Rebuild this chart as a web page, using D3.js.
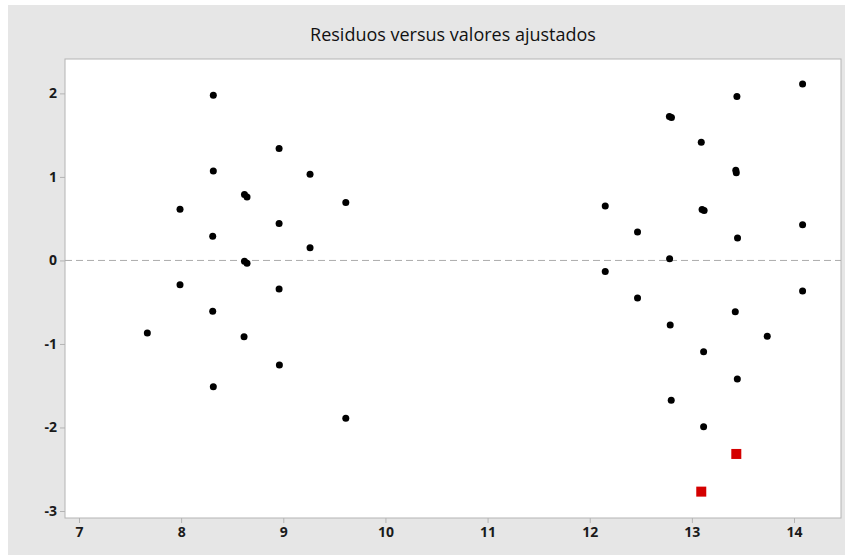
<!DOCTYPE html>
<html>
<head>
<meta charset="utf-8">
<script src="https://cdn.jsdelivr.net/npm/d3@7"></script>
<style>
  html, body { margin: 0; padding: 0; background: #ffffff; }
  svg { display: block; }
</style>
</head>
<body>
<script>
// ---- data ----
const title = "Residuos versus valores ajustados";
const xTicks = [7, 8, 9, 10, 11, 12, 13, 14];
const yTicks = [-3, -2, -1, 0, 1, 2];

// fitted values (x) and residuals (y) of ordinary points
const fitted = [
  8.315, 8.959, 8.315, 9.262, 8.62, 8.645, 9.612, 7.989, 8.959, 8.309,
  9.262, 8.62, 8.645, 7.989, 8.959, 8.309, 7.669, 8.616, 8.962, 8.315,
  9.612,
  14.084, 13.441, 12.78, 12.80, 13.092, 13.43, 13.435, 12.152, 13.10, 13.12,
  12.468, 14.084, 13.447, 12.782, 12.152, 12.468, 14.084, 13.425, 12.788,
  13.738, 13.115, 13.445, 12.798, 13.115
];
const residuals = [
  1.977, 1.34, 1.072, 1.032, 0.79, 0.76, 0.694, 0.614, 0.443, 0.291,
  0.151, -0.01, -0.035, -0.292, -0.343, -0.607, -0.870, -0.914, -1.252, -1.512,
  -1.890,
  2.112, 1.962, 1.722, 1.712, 1.415, 1.08, 1.05, 0.653, 0.61, 0.598,
  0.342, 0.426, 0.270, 0.019, -0.132, -0.451, -0.367, -0.615, -0.774,
  -0.909, -1.093, -1.420, -1.675, -1.990
];
// unusual observations (red squares)
const flaggedFitted = [13.435, 13.092];
const flaggedResiduals = [-2.317, -2.768];

// ---- layout ----
const W = 845, H = 555;
const frame = { left: 65, right: 841, top: 59, bottom: 518 };

const svg = d3.select("body").append("svg")
  .attr("width", W).attr("height", H);

// panel background
svg.append("rect")
  .attr("x", 8).attr("y", 5)
  .attr("width", W - 8).attr("height", H - 5)
  .attr("fill", "#e6e6e6");

const x = d3.scaleLinear()
  .domain([6.863, 14.46])
  .range([frame.left, frame.right]);
// 2 -> 93.4, -3 -> 511
const yPerUnit = (511 - 93.4) / 5;
const y = d3.scaleLinear()
  .domain([2 + (93.4 - frame.top) / yPerUnit, -3 - (frame.bottom - 511) / yPerUnit])
  .range([frame.top, frame.bottom]);

// plot area
svg.append("rect")
  .attr("x", frame.left).attr("y", frame.top)
  .attr("width", frame.right - frame.left).attr("height", frame.bottom - frame.top)
  .attr("fill", "#ffffff")
  .attr("stroke", "#b4b4b4").attr("stroke-width", 1);

// title
svg.append("text")
  .attr("x", (frame.left + frame.right) / 2)
  .attr("y", 41)
  .attr("text-anchor", "middle")
  .attr("font-family", "'Open Sans', sans-serif")
  .attr("font-size", 18)
  .attr("font-weight", 500)
  .attr("fill", "#111")
  .text(title);

// axes
const fontFam = "'Open Sans', sans-serif";
const fmt = d => String(d);
const xAxis = svg.append("g")
  .attr("transform", `translate(0,${frame.bottom})`)
  .call(d3.axisBottom(x).tickValues(xTicks).tickSize(5).tickPadding(4).tickFormat(fmt));
const yAxis = svg.append("g")
  .attr("transform", `translate(${frame.left},0)`)
  .call(d3.axisLeft(y).tickValues(yTicks).tickSize(5).tickPadding(3).tickFormat(fmt));

[xAxis, yAxis].forEach(g => {
  g.select(".domain").remove();
  g.selectAll(".tick line").attr("stroke", "#b4b4b4");
  g.selectAll(".tick text")
    .attr("font-family", fontFam)
    .attr("font-size", 14)
    .attr("font-weight", "bold")
    .attr("fill", "#1a1a1a");
});

// zero reference line
svg.append("line")
  .attr("x1", frame.left).attr("x2", frame.right)
  .attr("y1", y(0)).attr("y2", y(0))
  .attr("stroke", "#acacac")
  .attr("stroke-width", 1)
  .attr("stroke-dasharray", "7,4");

// points
const pts = fitted.map((f, i) => ({ f, r: residuals[i] }));
svg.append("g").selectAll("circle")
  .data(pts).join("circle")
  .attr("cx", d => x(d.f))
  .attr("cy", d => y(d.r))
  .attr("r", 3.5)
  .attr("fill", "#000");

const flagged = flaggedFitted.map((f, i) => ({ f, r: flaggedResiduals[i] }));
const sq = 10;
svg.append("g").selectAll("rect")
  .data(flagged).join("rect")
  .attr("x", d => x(d.f) - sq / 2)
  .attr("y", d => y(d.r) - sq / 2)
  .attr("width", sq).attr("height", sq)
  .attr("fill", "#d40000");
</script>
</body>
</html>
